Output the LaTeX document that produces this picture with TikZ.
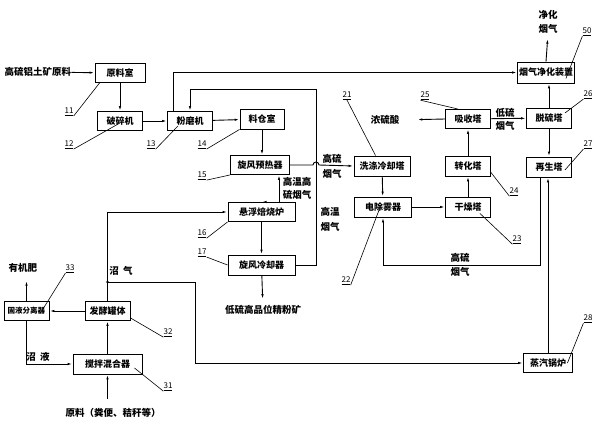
\documentclass[tikz,border=0pt]{standalone}
\usepackage{fontspec}
\setmainfont{Noto Sans CJK SC}
\usetikzlibrary{calc,positioning,arrows.meta}

\begin{document}
\begin{tikzpicture}[x=1pt,y=-1pt,
  box/.style={draw,line width=0.9pt,inner sep=0pt,minimum height=19pt,font=\fontsize{9}{10}\selectfont\bfseries},
  txt/.style={inner sep=0pt,font=\fontsize{9.5}{10}\selectfont\bfseries},
  two/.style={inner sep=0pt,align=center,font=\fontsize{9.5}{#1}\selectfont\bfseries},
  num/.style={inner sep=0pt,font=\fontsize{8}{9}\selectfont},
  arr/.style={line width=0.9pt,-{Latex[length=5pt,width=2.4pt]}},
  ln/.style={line width=0.9pt},
  lead/.style={line width=0.6pt}]
\useasboundingbox (0,0) rectangle (600,428);

% bauxite line
\node[box,minimum width=50pt] (ylk) at (120,73) {原料室};
\node[box,minimum width=45pt] (psj) at (120,121) {破碎机};
\node[box,minimum width=45pt] (fmj) at (190,121) {粉磨机};
\node[box,minimum width=44pt,minimum height=20pt] (lcs) at (262,119) {料仓室};
\node[box,minimum width=59pt] (xfyrq) at (260,165) {旋风预热器};
\node[box,minimum width=67pt] (xfblj) at (261.5,212) {悬浮焙烧炉};
\node[box,minimum width=67pt,minimum height=20pt] (xflqq) at (261.5,265) {旋风冷却器};
\node[txt] (ylsrc) at (38,72) {高硫铝土矿原料};
\node[txt] (jfk) at (263,310) {低硫高品位精粉矿};

% acid line
\node[box,minimum width=56pt,minimum height=20pt] (xdlqt) at (382,166) {洗涤冷却塔};
\node[box,minimum width=57pt,minimum height=20pt] (dcwq) at (383,207) {电除雾器};
\node[box,minimum width=45pt,minimum height=20pt] (gzt) at (468,207) {干燥塔};
\node[box,minimum width=45pt,minimum height=20pt] (zht) at (468,166) {转化塔};
\node[box,minimum width=45pt] (xst) at (468,119) {吸收塔};
\node[box,minimum width=45pt,minimum height=20pt] (tlt) at (549,118) {脱硫塔};
\node[box,minimum width=45pt,minimum height=20pt] (zst) at (549,167) {再生塔};
\node[box,minimum width=57pt,minimum height=21pt] (yqjh) at (546,72.5) {烟气净化装置};
\node[box,minimum width=49pt] (zqgl) at (548,363) {蒸汽锅炉};
\node[txt] (nls) at (385,120) {浓硫酸};
\node[two=14] (jhyq) at (548,22) {净化\\烟气};

% biogas line
\node[box,minimum width=45pt] (fjgt) at (107.5,311) {发酵罐体};
\node[box,minimum width=45pt,font=\fontsize{7.5}{8}\selectfont\bfseries] (gyfl) at (26.5,311) {固液分离器};
\node[box,minimum width=69pt,minimum height=20pt] (jbhh) at (107.5,364) {搅拌混合器};
\node[txt] (yjf) at (23,268) {有机肥};
\node[txt] (yl) at (113,413) {原料（粪便、秸秆等）};

% flow labels
\node[two=15] (lb1) at (332,166) {高硫\\烟气};
\node[two=13] (lb2) at (297,188.5) {高温高\\硫烟气};
\node[two=15] (lb3) at (330,219) {高温\\烟气};
\node[two=13] (lb4) at (505,119) {低硫\\烟气};
\node[two=14] (lb5) at (460,265) {高硫\\烟气};
\node[txt] (lb6) at (121,271) {沼\ \ 气};
\node[txt] (lb7) at (38,357) {沼\ \ 液};

\coordinate (hg) at (316,89);
\coordinate (bj) at (107.5,282);
\coordinate (bk) at (195,282);

\draw[arr] (ylsrc) -- (ylk);
\draw[arr] (ylk) -- (psj);
\draw[arr] (psj) -- (fmj);
\draw[arr] (fmj) -- (lcs);
\draw[arr] (lcs.south) -- (lcs.south |- xfyrq.north);
\draw[arr] (xfblj.north -| lcs.south) -- (xfblj.north);
\draw[arr] (xfblj) -- (xflqq);
\draw[arr,shorten >=6pt] (xflqq) -- (jfk);
\draw[arr] ([xshift=17.5pt]xfblj.north) -- ([xshift=17.5pt]xfblj.north |- xfyrq.south);
\draw[arr] (xfyrq.east) -- (313,165) arc[start angle=180,end angle=0,radius=3pt] -- (xdlqt.west);
\draw[arr] (xflqq.east) -| (hg) -| (fmj.north);
\draw[arr] ([xshift=-17pt]fmj.north) |- (yqjh.west);

\draw[arr] (xdlqt) -- (dcwq);
\draw[arr] (dcwq) -- (gzt);
\draw[arr] (gzt) -- (zht);
\draw[arr] (zht) -- (xst);
\draw[arr,shorten >=18pt] (xst.west) -- (nls.east);
\draw[arr] (xst) -- (tlt);
\draw[arr] (tlt.north) -- (tlt.north |- yqjh.south);
\draw[arr,shorten >=5pt] (yqjh.north) -- (jhyq.south);
\draw[arr] (tlt) -- (zst);
\draw[arr] ([xshift=-9pt]zst.south) |- (dcwq.south |- xflqq.center) -- (dcwq.south);
\draw[arr] (zqgl.north) -- (zqgl.north |- zst.south);

\draw[arr] (fjgt.north) |- (xfblj.west);
\draw[arr] (bj) -- (bk) |- (zqgl.west);
\fill (bj) circle (1.3pt);
\draw[arr] (fjgt) -- (gyfl);
\draw[arr,shorten >=8pt] (gyfl.north) -- (yjf.south -| gyfl.north);
\draw[arr] (gyfl.south) |- (jbhh.west);
\draw[arr] (jbhh) -- (fjgt);
\draw[arr,shorten <=9pt] (yl.north -| jbhh.south) -- (jbhh.south);

% reference numbers
\node[num] (n11) at (69,112) {\underline{11}};
\node[num] (n12) at (69,145) {\underline{12}};
\node[num] (n13) at (151,145) {\underline{13}};
\node[num] (n14) at (202,145) {\underline{14}};
\node[num] (n15) at (202,176) {\underline{15}};
\node[num] (n16) at (202,234) {\underline{16}};
\node[num] (n17) at (202,253) {\underline{17}};
\node[num] (n21) at (347,96) {\underline{21}};
\node[num] (n22) at (346,281) {\underline{22}};
\node[num] (n23) at (517,240) {\underline{23}};
\node[num] (n24) at (514,192) {\underline{24}};
\node[num] (n25) at (425,96) {\underline{25}};
\node[num] (n26) at (588,95) {\underline{26}};
\node[num] (n27) at (588,145) {\underline{27}};
\node[num] (n28) at (588,319) {\underline{28}};
\node[num] (n31) at (168,387) {\underline{31}};
\node[num] (n32) at (168,333) {\underline{32}};
\node[num] (n33) at (70,269) {\underline{33}};
\node[num] (n50) at (587,32) {\underline{50}};

\draw[lead] (n11.south east) -- ($(ylk.south west)+(5,0)$);
\draw[lead] (n12.south east) -- ($(psj.south)+(0,-8)$);
\draw[lead] (n13.south east) -- ($(fmj.south)+(-12,-5)$);
\draw[lead] (n14.south east) -- (lcs.south west);
\draw[lead] (n15.south east) -- (xfyrq.south west);
\draw[lead] (n16.south east) -- (xfblj.south west);
\draw[lead] (n17.south east) -- (xflqq.west);
\draw[lead] (n21.south) -- ($(xdlqt.north west)+(22,0)$);
\draw[lead] (n22.south east) -- ($(dcwq.south)+(-3,-10)$);
\draw[lead] (n23.south west) -- ($(gzt.south east)+(-11,-4)$);
\draw[lead] (n24.south west) -- ($(zht.south east)+(0,-4)$);
\draw[lead] (n25.south west) -- ($(xst.north)+(-10,0)$);
\draw[lead] (n26.south west) -- ($(tlt.east)+(-7,-5)$);
\draw[lead] (n27.south west) -- ($(zst.east)+(-7,3)$);
\draw[lead] (n28.south west) -- ($(zqgl.east)+(-5.5,0)$);
\draw[lead] (n31.south west) -- ($(jbhh.east)+(-8,4)$);
\draw[lead] (n32.south west) -- ($(fjgt.south east)+(0,-3)$);
\draw[lead] (n33.south west) -- ($(gyfl.east)+(-9,2)$);
\draw[lead] (n50.south west) -- ($(yqjh.south east)+(-9,-5)$);
\end{tikzpicture}
\end{document}
